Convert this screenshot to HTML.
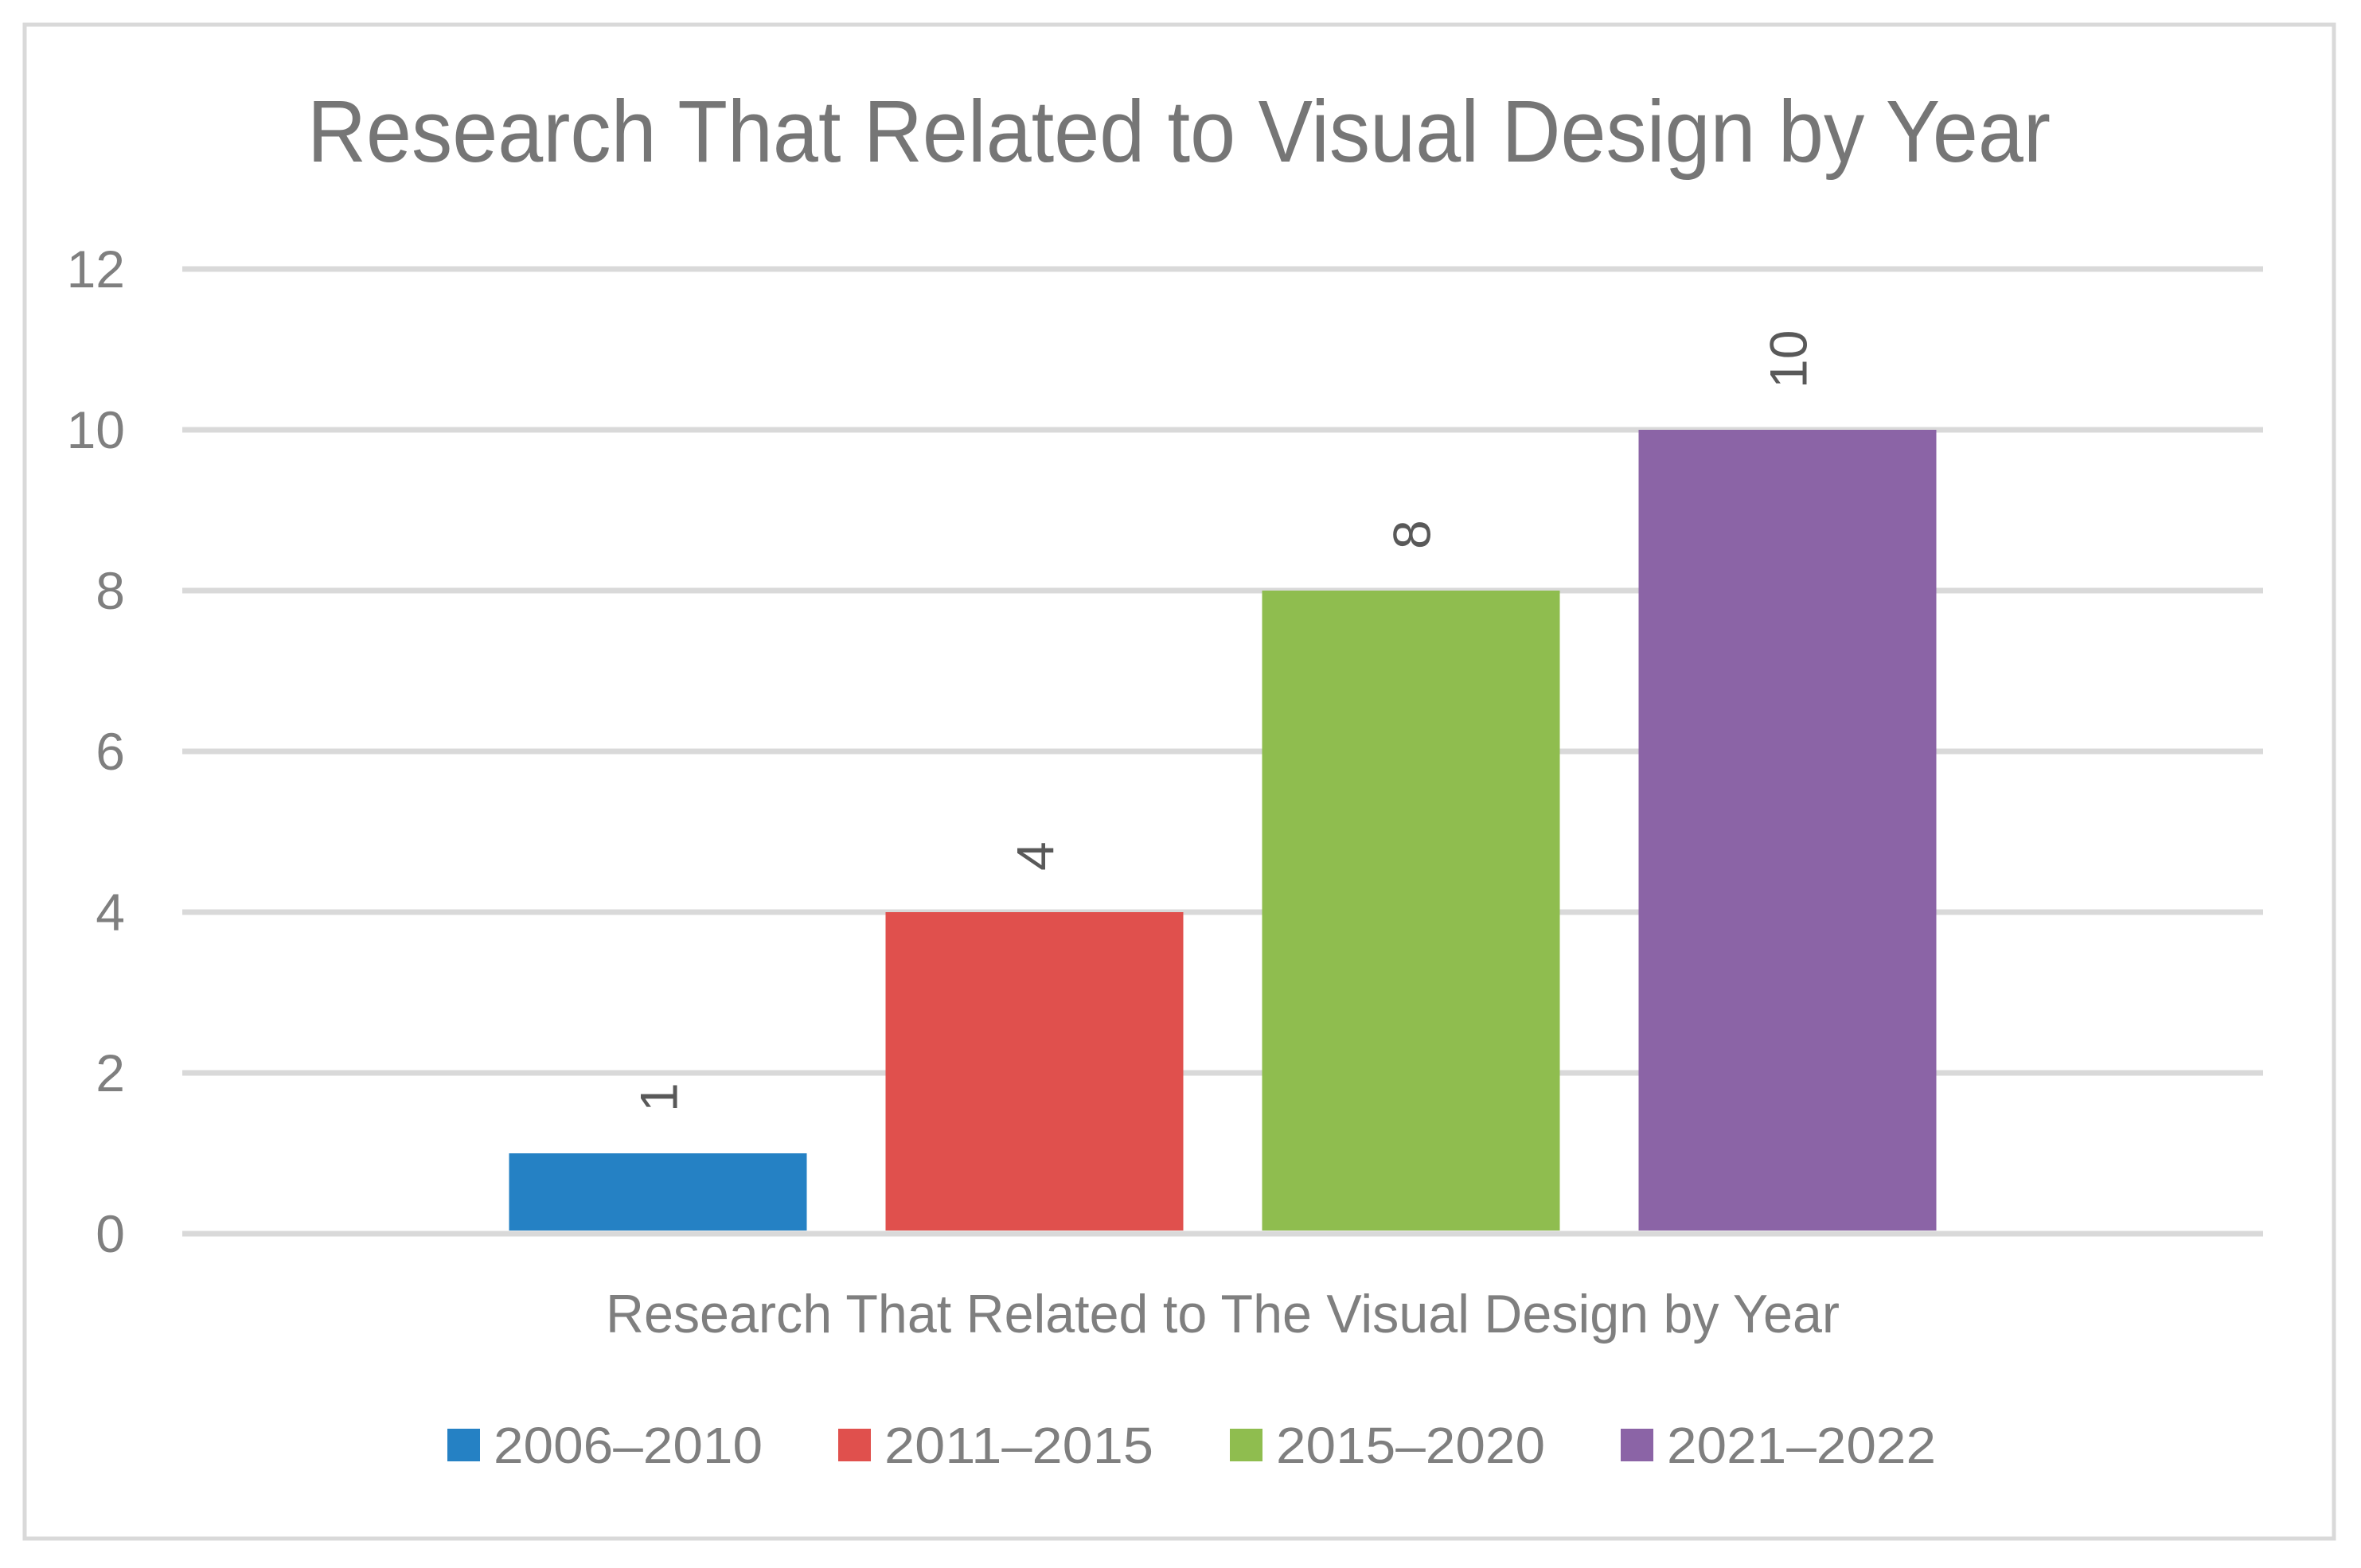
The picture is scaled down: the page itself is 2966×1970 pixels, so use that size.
<!DOCTYPE html>
<html><head><meta charset="utf-8"><style>
html,body{margin:0;padding:0;background:#fff;}
svg{display:block;font-family:"Liberation Sans",sans-serif;}
</style></head><body>
<svg id="chart" width="2966" height="1970" viewBox="0 0 2966 1970" xmlns="http://www.w3.org/2000/svg">
<rect x="31" y="31" width="2901" height="1902" fill="#fff" stroke="#d9d9d9" stroke-width="5"/>
<text x="1481" y="203" text-anchor="middle" font-size="110" fill="#767676" textLength="2190" lengthAdjust="spacingAndGlyphs">Research That Related to Visual Design by Year</text>
<g id="grid"></g>
<g id="bars"></g>
<text x="1536" y="1674" text-anchor="middle" font-size="68" fill="#7f7f7f" textLength="1550" lengthAdjust="spacingAndGlyphs">Research That Related to The Visual Design by Year</text>
<g id="legend"></g>
</svg>
<script>
const categories = ["2006–2010","2011–2015","2015–2020","2021–2022"];
const values = [1,4,8,10];
const tickValues = [0,2,4,6,8,10,12];
const colors = ["#2581c4","#e0504d","#8fbd4f","#8b64a6"];

const NS="http://www.w3.org/2000/svg";
const x0=229, x1=2843, yBase=1550, unit=101;
function y(v){return yBase - v*unit;}
const barW=374, step=473, center=1536;
function bx(i){return center + (i-(categories.length-1)/2)*step - barW/2;}
function mk(t,a,txt){const e=document.createElementNS(NS,t);for(const k in a)e.setAttribute(k,a[k]);if(txt!==undefined)e.textContent=txt;return e;}

const grid=document.getElementById('grid');
tickValues.forEach(v=>{
  const l=mk('line',{x1:x0,x2:x1,y1:y(v),y2:y(v),stroke:'#d9d9d9','stroke-width':7});
  
  
  grid.appendChild(l);
  const t=mk('text',{x:157,y:y(v)+23,'text-anchor':'end','font-size':66,fill:'#7f7f7f'},String(v));
  
  
  grid.appendChild(t);
});

const bars=document.getElementById('bars');
values.forEach((v,i)=>{
  const r=mk('rect',{x:bx(i),y:y(v),width:barW,height:y(0)-y(v)-4,fill:colors[i]});
  
  
  bars.appendChild(r);
  const cx=bx(i)+barW/2, ty=y(v)-52;
  const t=mk('text',{x:cx+24,y:ty,'font-size':66,fill:'#595959',transform:'rotate(-90 '+(cx+24)+' '+ty+')'},String(v));
  
  
  bars.appendChild(t);
});

const legend=document.getElementById('legend');
const legX=[562,1053,1545,2036];
categories.forEach((c,i)=>{
  const s=mk('rect',{x:legX[i],y:1795,width:41,height:41,fill:colors[i]});
  
  
  legend.appendChild(s);
  const t=mk('text',{x:legX[i]+58,y:1838,'font-size':64,fill:'#7f7f7f',textLength:338,lengthAdjust:'spacingAndGlyphs'},c);
  
  
  legend.appendChild(t);
});
</script>
</body></html>
